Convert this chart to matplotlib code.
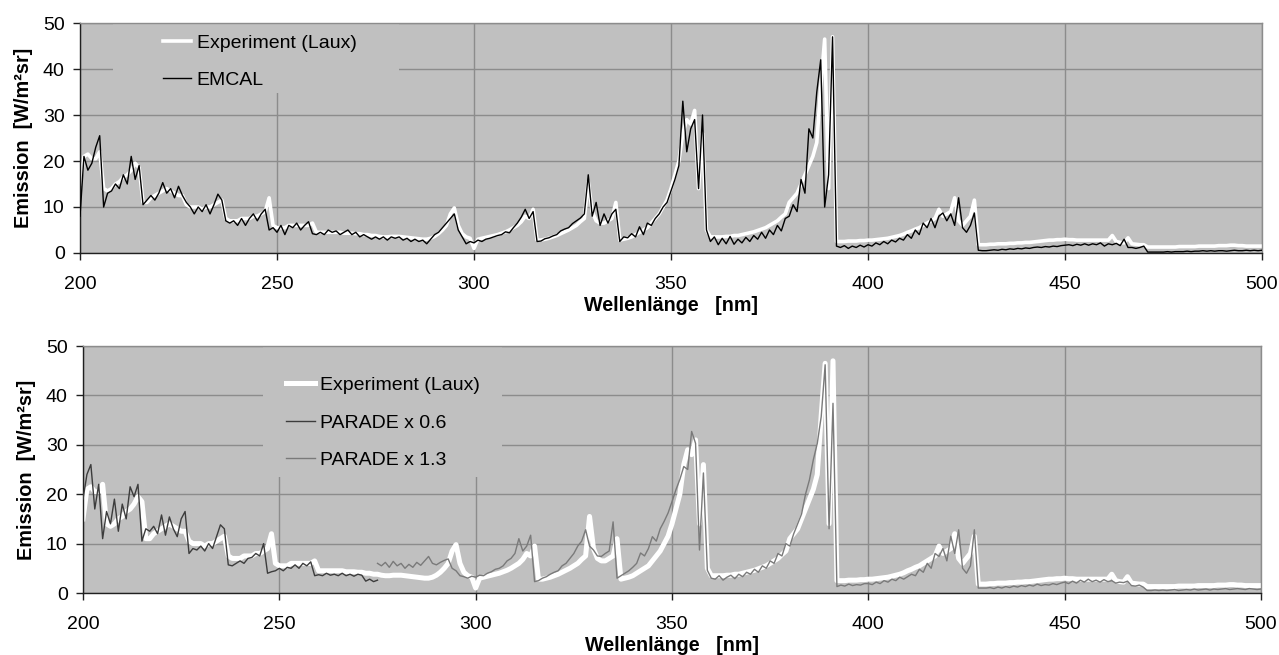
import matplotlib
matplotlib.use("Agg")
import matplotlib.pyplot as plt
from matplotlib.patches import Rectangle

plt.rcParams['font.family'] = ['Liberation Sans', 'DejaVu Sans']

# ---------------- data (1 nm steps) ----------------
wavelength = list(range(200, 501))

experiment_laux = [
    15, 21, 21.5, 20.5, 20.5, 22, 14, 13.5, 14, 15,
    15.5, 16.5, 17, 18, 19.5, 18.5, 11, 11, 12, 12.5,
    13, 13.5, 14, 13.5, 13, 12.5, 12.5, 10.5, 10, 10,
    10, 9.5, 10, 10, 10.5, 11, 11.5, 7.5, 7, 7,
    7, 7.5, 7.5, 7.5, 8, 8, 8.5, 9, 12, 6,
    5.5, 5.5, 5.5, 6, 6, 6, 6, 6, 6, 6.5,
    4.5, 4.5, 4.5, 4.5, 4.5, 4.5, 4.5, 4.3, 4.3, 4.3,
    4.2, 4.2, 4.0, 4.0, 3.8, 3.8, 3.6, 3.5, 3.5, 3.6,
    3.6, 3.6, 3.5, 3.4, 3.3, 3.2, 3.1, 3.0, 3.0, 3.2,
    3.6, 4.2, 5.0, 6.0, 8.5, 9.8, 6.0, 4.2, 3.5, 3.2,
    1.0, 3.0, 3.2, 3.4, 3.6, 3.8, 4.0, 4.3, 4.6, 5.0,
    5.5, 6.0, 6.8, 8.0, 7.5, 9.5, 2.8, 2.8, 3.0, 3.2,
    3.5, 3.8, 4.2, 4.6, 5.0, 5.5, 6.0, 6.8, 7.5, 15.5,
    9.0, 7.0, 6.5, 6.5, 7.0, 7.5, 11.0, 2.8, 3.0, 3.2,
    3.5, 4.0, 4.5, 5.0, 5.5, 6.5, 7.5, 8.5, 10.0, 11.5,
    14, 17, 20, 26, 29, 28, 31, 14, 26, 5,
    3.5, 3.5, 3.5, 3.5, 3.6, 3.6, 3.8, 3.8, 4.0, 4.2,
    4.4, 4.6, 4.9, 5.2, 5.5, 6.0, 6.5, 7.0, 7.8, 8.5,
    11, 12, 13, 15, 17, 19, 21, 24, 36, 46.5,
    14, 47, 2.5, 2.5, 2.5, 2.6, 2.6, 2.6, 2.7, 2.7,
    2.8, 2.8, 2.9, 3.0, 3.1, 3.2, 3.4, 3.6, 3.8, 4.1,
    4.5, 4.8, 5.2, 5.5, 6.0, 6.5, 7.0, 7.5, 9.5, 8.0,
    8.5, 9.0, 12.0, 7.0, 6.0, 7.0, 8.0, 11.5, 1.8, 1.8,
    1.8, 1.9, 1.9, 2.0, 2.0, 2.0, 2.1, 2.1, 2.2, 2.2,
    2.3, 2.3, 2.4, 2.5, 2.6, 2.7, 2.8, 2.8, 2.9, 2.9,
    3.0, 2.9, 2.9, 2.8, 2.8, 2.8, 2.8, 2.8, 2.8, 2.8,
    2.8, 2.8, 3.8, 2.5, 2.3, 2.2, 3.3, 2.0, 1.9, 1.8,
    1.8, 1.3, 1.3, 1.3, 1.3, 1.3, 1.3, 1.3, 1.3, 1.4,
    1.4, 1.4, 1.4, 1.4, 1.5, 1.5, 1.5, 1.5, 1.5, 1.6,
    1.6, 1.6, 1.7, 1.7, 1.6, 1.6, 1.5, 1.5, 1.5, 1.5, 1.5,
]

emcal = [
    8, 21, 18, 19.5, 23, 25.5, 10, 13, 13.5, 15,
    14, 17, 15, 21, 16, 19, 10.5, 11.5, 12.5, 11.5,
    13, 15.3, 13, 14, 12, 14.5, 12.5, 11, 10, 8.5,
    10, 9, 10.5, 8.5, 10.5, 12.8, 11.5, 7, 6.5, 7,
    6, 7.5, 6, 7.5, 8.5, 7, 8.5, 9.5, 5, 5.5,
    4.5, 6, 4, 6, 5.5, 6.5, 5, 6, 6.8, 4.2,
    4, 4.5, 4, 5, 4.5, 4.8, 4, 4.5, 5, 4,
    4.5, 3.5, 4, 3.5, 3, 3.5, 3.0, 3.5, 2.8, 3.5,
    3.2, 3.5, 2.8, 3.2, 2.5, 3, 2.5, 2.8, 2.0, 3.0,
    4, 4.5, 5.5, 6.5, 7.5, 8.5, 5, 3.5, 2, 2.5,
    2.2, 2.8, 2.5, 3, 3.2, 3.5, 3.8, 4.0, 4.6, 4.4,
    5.5, 6.5, 7.8, 9.5, 7.5, 9, 2.5, 2.6, 3.1, 3.3,
    3.7, 4, 4.8, 5.2, 5.5, 6.4, 7.0, 7.6, 8.5, 17,
    8, 11, 6, 8.5, 6.5, 8.5, 9.5, 2.5, 3.5, 3.3,
    4.2, 3.5, 5.7, 4, 6.5, 6, 7.5, 8.5, 10, 11,
    13.5, 16, 19, 33, 22, 27, 29, 14, 30, 5,
    2.5, 3.5, 1.8, 3.2, 2.0, 3.6, 1.9, 3.0, 2.2, 3.4,
    2.5, 3.8, 3, 4.5, 3.2, 5, 4, 6, 4.8, 7.5,
    8, 10.5, 9, 16, 13, 27, 25, 35, 42, 10,
    17, 47, 1.5, 1.2, 1.6, 1.0, 1.5, 1.2, 1.7, 1.3,
    1.8, 1.5, 2.2, 1.8, 2.5, 2, 2.8, 2.4, 3.2, 2.8,
    4, 3.2, 5, 4, 6.5, 5.5, 7.5, 5.5, 8, 8.7,
    7, 8.5, 6, 12, 5.5, 4.5, 6, 8.7, 0.6, 0.5,
    0.5, 0.6, 0.7, 0.6, 0.8, 0.7, 0.9, 0.8, 1.0, 0.9,
    1.1, 1.0, 1.2, 1.3, 1.2, 1.4, 1.3, 1.5, 1.4, 1.6,
    1.7, 1.8, 1.6, 1.9, 1.7, 2.0, 1.7, 2.0, 1.8, 2.2,
    1.5, 2.0, 1.8, 2.1, 1.6, 3.0, 1.2, 1.2, 1.0, 1.2,
    1.5, 0.2, 0.2, 0.2, 0.2, 0.2, 0.3, 0.2, 0.3, 0.3,
    0.3, 0.4, 0.3, 0.4, 0.4, 0.5, 0.4, 0.5, 0.4, 0.5,
    0.5, 0.4, 0.5, 0.6, 0.5, 0.5, 0.6, 0.5, 0.6, 0.5, 0.6,
]

wavelength_p06 = list(range(200, 276))
parade_x06 = [
    19, 24, 26, 17, 22, 11, 16.5, 14, 19, 12.5,
    18, 15, 21.5, 19.5, 22, 10.5, 13, 12.5, 13.5, 12,
    15.8, 11.7, 15.4, 13, 11.4, 15, 16.5, 8, 9, 8.7,
    9.5, 8.5, 10, 9, 11.4, 13.8, 13, 5.7, 5.5, 6,
    6.5, 6, 7, 7.2, 8, 7.5, 10, 4, 4.3, 4.5,
    5, 4.5, 5.2, 5, 5.7, 5, 6, 5.5, 6.3, 3.5,
    3.7, 3.5, 4, 3.6, 3.8, 3.5, 4, 3.5, 3.8, 3.4,
    3.8, 3.6, 2.4, 2.8, 2.3, 2.6,
]

wavelength_p13 = list(range(275, 501))
parade_x13 = [
    6, 5.5, 6.2, 5.2, 6.4,
    5.5, 6, 5, 5.8, 5.2, 6.2, 5.6, 6.5, 7.4, 6,
    5.7, 6.2, 6.6, 6.9, 5, 4.5, 3.5, 3.3, 3.0, 3.4,
    3.2, 3.6, 3.5, 4, 4.3, 4.8, 5, 5.5, 6.5, 7,
    8, 11, 8.5, 9.5, 11.7, 2.3, 2.5, 3, 3.3, 3.8,
    4.2, 4.5, 5.5, 6, 7, 8, 9.5, 10.5, 12.8, 9.5,
    8.7, 7.5, 7.4, 8, 8.5, 14.4, 3, 3.5, 4, 4.5,
    5.2, 6, 8.1, 7.5, 9, 11.4, 10.5, 13, 14.5, 16.2,
    18.5, 20.9, 23, 25.6, 25, 32.7, 30.3, 8.7, 24.3, 4.6,
    3, 2.8, 3.5, 2.6, 3.2, 3.6, 2.9, 3.8, 3.3, 4.2,
    3.8, 4.8, 4.2, 5.5, 5, 6.5, 6, 8, 7.5, 10,
    9.5, 12, 14, 16, 20, 22.9, 27, 30.3, 35.7, 46.2,
    13, 38.4, 1.3, 1.6, 1.4, 1.8, 1.5, 1.7, 1.6, 1.9,
    1.9, 1.7, 2.2, 1.9, 2.5, 2.2, 2.8, 2.5, 3.2, 2.8,
    3.3, 3.8, 3.5, 4.8, 4.2, 6, 5, 8, 7.4, 9,
    6.5, 11.5, 8, 12.8, 5, 4, 5.5, 12.8, 1.0, 1.0,
    1, 1.1, 0.9, 1.2, 1, 1.3, 1.1, 1.4, 1.2, 1.5,
    1.3, 1.6, 1.4, 1.8, 1.5, 1.7, 1.6, 1.9, 1.7, 2,
    2.2, 1.9, 2.4, 2, 2.6, 2.2, 2.8, 2.3, 2.6, 2.2,
    2.7, 2.3, 2.5, 2, 2.2, 2.1, 2.4, 1.5, 1.4, 1.6,
    1.2, 0.5, 0.5, 0.6, 0.5, 0.6, 0.5, 0.6, 0.7, 0.5,
    0.6, 0.7, 0.6, 0.8, 0.6, 0.7, 0.8, 0.6, 0.8, 0.7,
    0.8, 0.9, 0.7, 0.8, 0.9, 0.8, 0.7, 0.9, 0.8, 0.7, 0.8,
]

x_ticks = [200, 250, 300, 350, 400, 450, 500]
y_ticks = [0, 10, 20, 30, 40, 50]
x_label = "Wellenlänge   [nm]"
y_label = "Emission  [W/m²sr]"

# ---------------- figure ----------------
W, H = 1279, 655
fig = plt.figure(figsize=(W / 100, H / 100), dpi=100)

BG = "#c0c0c0"
GRID = "#8c8c8c"
FS = 14


def px_axes(l, t, r, b):
    return fig.add_axes([l / W, 1 - b / H, (r - l) / W, (b - t) / H])


def style(ax, mask):
    ax.set_facecolor(BG)
    ax.set_xlim(200, 500)
    ax.set_ylim(0, 50)
    ax.set_xticks(x_ticks)
    ax.set_yticks(y_ticks)
    ax.set_axisbelow(True)
    ax.grid(True, color=GRID, lw=1.0)
    for s in ("top", "right"):
        ax.spines[s].set_color(GRID)
        ax.spines[s].set_linewidth(1.0)
    for s in ("left", "bottom"):
        ax.spines[s].set_color("#202020")
        ax.spines[s].set_linewidth(1.0)
    ax.tick_params(direction="out", length=5, width=1, color="#202020",
                   labelsize=FS)
    ax.tick_params(axis="x", pad=11.5)
    ax.tick_params(axis="y", pad=6)
    ax.set_xlabel(x_label, fontsize=14.2, fontweight="bold", labelpad=2)
    ax.set_ylabel(y_label, fontsize=14.3, fontweight="bold", labelpad=7)
    x0, y0, x1, y1 = mask
    ax.add_patch(Rectangle((x0, y0), x1 - x0, y1 - y0, transform=ax.transAxes,
                           facecolor=BG, edgecolor="none", zorder=1.5))


# top panel
ax1 = px_axes(80, 23, 1262, 253)
style(ax1, (0.028, 0.696, 0.270, 0.999))
ax1.plot(wavelength, experiment_laux, color="white", lw=2.6, zorder=2,
         label="Experiment (Laux)")
ax1.plot(wavelength, emcal, color="black", lw=1.0, zorder=3, label="EMCAL")
ax1.legend(loc="upper left", bbox_to_anchor=(0.070, 0.952), frameon=False,
           fontsize=FS, handlelength=1.45, handletextpad=0.3, labelspacing=1.03,
           borderpad=0, borderaxespad=0)

# bottom panel
ax2 = px_axes(83, 346, 1261, 593)
style(ax2, (0.153, 0.470, 0.356, 0.999))
ax2.plot(wavelength, experiment_laux, color="white", lw=3.6, zorder=2,
         label="Experiment (Laux)")
ax2.plot(wavelength_p06, parade_x06, color="#3c3c3c", lw=1.0, zorder=3,
         label="PARADE x 0.6")
ax2.plot(wavelength_p13, parade_x13, color="#7a7a7a", lw=1.0, zorder=3,
         label="PARADE x 1.3")
ax2.legend(loc="upper left", bbox_to_anchor=(0.1727, 0.877), frameon=False,
           fontsize=FS, handlelength=1.45, handletextpad=0.3, labelspacing=1.03,
           borderpad=0, borderaxespad=0)

fig.savefig("out.png", dpi=100, facecolor="white")
